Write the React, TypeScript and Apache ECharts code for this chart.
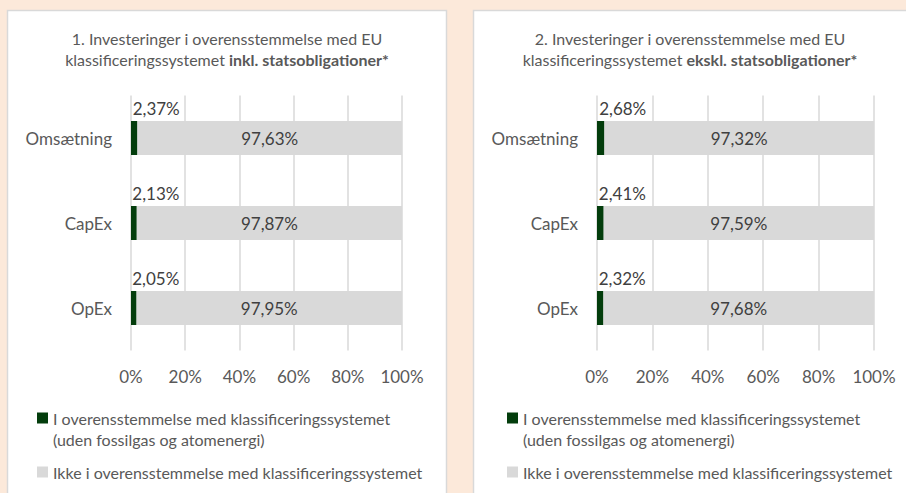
import React, { useEffect, useRef } from "react";
import * as echarts from "echarts";

// Categories (top to bottom)
const categories = ["Omsætning", "CapEx", "OpEx"];

// Panel 1: incl. government bonds
const alignedIncl = [2.37, 2.13, 2.05];
const notAlignedIncl = [97.63, 97.87, 97.95];

// Panel 2: excl. government bonds
const alignedExcl = [2.68, 2.41, 2.32];
const notAlignedExcl = [97.32, 97.59, 97.68];

const xTicks = [0, 20, 40, 60, 80, 100];

const nameAligned = "I overensstemmelse med klassificeringssystemet (uden fossilgas og atomenergi)";
const nameNotAligned = "Ikke i overensstemmelse med klassificeringssystemet";

const titleIncl = ["1. Investeringer i overensstemmelse med EU", "klassificeringssystemet ", "inkl. statsobligationer*"];
const titleExcl = ["2. Investeringer i overensstemmelse med EU", "klassificeringssystemet ", "ekskl. statsobligationer*"];

const FONT = "Lato";
const GREEN = "#033d0c";
const GREY = "#d9d9d9";
const TEXT = "#595959";
const DARK = "#404040";

const pct = (v: number) => v.toFixed(2).replace(".", ",") + "%";

export default function App() {
  const ref = useRef<HTMLDivElement>(null);

  useEffect(() => {
    if (!ref.current) return;
    const chart = echarts.init(ref.current, null, { renderer: "svg" });

    const panels = [
      { left: 131, right: 906 - 402, cx: 227, title: titleIncl, aligned: alignedIncl, notAligned: notAlignedIncl, legendLeft: 37 },
      { left: 597, right: 906 - 874, cx: 690, title: titleExcl, aligned: alignedExcl, notAligned: notAlignedExcl, legendLeft: 507 },
    ];

    const grids = panels.map((p) => ({ left: p.left, right: p.right, top: 95.5, bottom: 493 - 350.5 }));

    const xAxes = panels.map((_, i) => ({
      type: "value",
      gridIndex: i,
      min: xTicks[0],
      max: xTicks[xTicks.length - 1],
      interval: xTicks[1] - xTicks[0],
      axisLine: { show: false },
      axisTick: { show: false },
      splitLine: { show: true, lineStyle: { color: GREY, width: 1.5 } },
      axisLabel: { formatter: "{value}%", color: TEXT, fontFamily: FONT, fontSize: 17, margin: 17 },
    }));

    const yAxes = panels.map((_, i) => ({
      type: "category",
      gridIndex: i,
      data: categories,
      inverse: true,
      axisLine: { show: false },
      axisTick: { show: false },
      axisLabel: { color: TEXT, fontFamily: FONT, fontSize: 17, margin: 19 },
    }));

    const series: any[] = [];
    panels.forEach((p, i) => {
      series.push({
        name: nameAligned,
        type: "bar",
        stack: "s" + i,
        xAxisIndex: i,
        yAxisIndex: i,
        barCategoryGap: "60%",
        data: p.aligned,
        itemStyle: { color: GREEN },
        label: {
          show: true,
          position: "top",
          distance: 4,
          offset: [22, 0],
          color: DARK,
          fontFamily: FONT,
          fontSize: 17,
          formatter: (d: any) => pct(d.value),
        },
      });
      series.push({
        name: nameNotAligned,
        type: "bar",
        stack: "s" + i,
        xAxisIndex: i,
        yAxisIndex: i,
        barCategoryGap: "60%",
        data: p.notAligned,
        itemStyle: { color: GREY },
        label: {
          show: true,
          position: "inside",
          color: DARK,
          fontFamily: FONT,
          fontSize: 17,
          formatter: (d: any) => pct(d.value),
        },
      });
    });

    const titles = panels.map((p) => ({
      left: p.cx,
      top: 28,
      padding: 0,
      textAlign: "center",
      text: `${p.title[0]}\n${p.title[1]}{b|${p.title[2]}}`,
      textStyle: {
        color: TEXT,
        fontFamily: FONT,
        fontSize: 16,
        fontWeight: "normal",
        lineHeight: 21,
        rich: { b: { fontWeight: "bold", color: TEXT, fontFamily: FONT, fontSize: 16, lineHeight: 21 } },
      },
    }));

    // square legend markers
    const legendCommon = {
      orient: "vertical",
      icon: "path://M0,0H10V10H0Z",
      itemWidth: 11,
      itemHeight: 11,
      padding: 0,
      selectedMode: false,
      textStyle: { color: TEXT, fontFamily: FONT, fontSize: 16, lineHeight: 21 },
    };
    const legends: any[] = [];
    panels.forEach((p) => {
      legends.push({
        ...legendCommon,
        left: p.legendLeft,
        top: 418 - 31.5,
        data: [nameAligned],
        formatter: () =>
          "\nI overensstemmelse med klassificeringssystemet\n(uden fossilgas og atomenergi)",
      });
      legends.push({
        ...legendCommon,
        left: p.legendLeft,
        top: 472 - 10.5,
        data: [nameNotAligned],
      });
    });

    chart.setOption({
      animation: false,
      backgroundColor: "#fce9da",
      textStyle: { fontFamily: FONT },
      graphic: [
        { type: "rect", z: -10, shape: { x: 7.5, y: 10.5, width: 439, height: 500 }, style: { fill: "#ffffff", stroke: GREY, lineWidth: 1.5 } },
        { type: "rect", z: -10, shape: { x: 473.5, y: 10.5, width: 450, height: 500 }, style: { fill: "#ffffff", stroke: GREY, lineWidth: 1.5 } },
      ],
      title: titles,
      legend: legends,
      grid: grids,
      xAxis: xAxes,
      yAxis: yAxes,
      series,
    });

    return () => chart.dispose();
  }, []);

  return (
    <div
      ref={ref}
      style={{ position: "fixed", left: 0, top: 0, width: 906, height: 493 }}
    />
  );
}
